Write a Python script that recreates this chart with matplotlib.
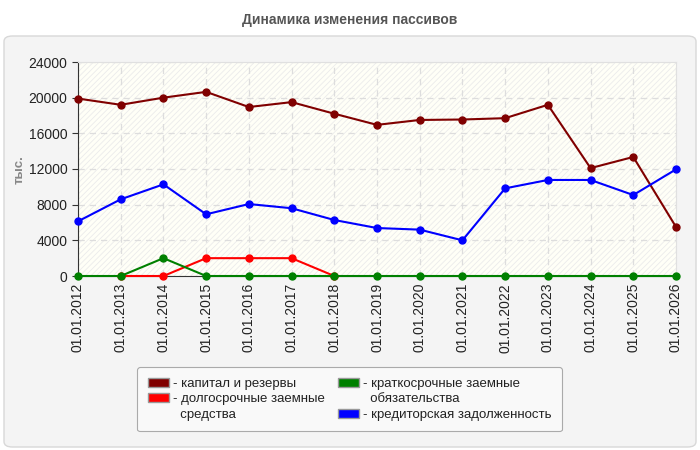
import matplotlib
matplotlib.use("Agg")
import matplotlib.pyplot as plt
import matplotlib.patches as mpatches

plt.rcParams['font.family'] = ['Liberation Sans', 'DejaVu Sans']
plt.rcParams['hatch.color'] = '#ebebeb'
plt.rcParams['hatch.linewidth'] = 0.6

dates = ['01.01.%d' % y for y in range(2012, 2027)]
capital = [19900, 19200, 20000, 20650, 18950, 19500, 18200, 16950, 17500,
           17550, 17700, 19200, 12100, 13350, 5500]
long_loans = [None, 0, 0, 2000, 2000, 2000, 0, None, None, None, None,
              None, None, None, None]
short_loans = [0, 0, 2000, 0, 0, 0, 0, 0, 0, 0, 0, 0, 0, 0, 0]
payables = [6130, 8600, 10280, 6920, 8070, 7600, 6280, 5380, 5200,
            4000, 9830, 10770, 10770, 9080, 11960]

names = ['капитал и резервы', 'долгосрочные заемные\nсредства',
         'краткосрочные заемные\nобязательства', 'кредиторская задолженность']
colors = ['#800000', '#ff0000', '#008000', '#0000ff']
values = [capital, long_loans, short_loans, payables]

fig = plt.figure(figsize=(7, 4.5), dpi=100, facecolor='white')

# outer rounded panel
panel = mpatches.FancyBboxPatch((4 / 700, 3 / 450), 692 / 700, 411 / 450,
                                boxstyle='round,pad=0,rounding_size=0.012',
                                transform=fig.transFigure, facecolor='#f4f4f4',
                                edgecolor='#d8d8d8', linewidth=1, zorder=-1)
fig.patches.append(panel)

fig.text(0.5, 1 - 20 / 450, 'Динамика изменения пассивов', ha='center',
         va='center', fontsize=10, fontweight='bold', color='#555555')

ax = fig.add_axes([78 / 700, 1 - 276 / 450, 598 / 700, 214 / 450])
ax.set_facecolor('#fffff7')
ax.add_patch(mpatches.Rectangle((0, 0), 1, 1, transform=ax.transAxes,
                                facecolor='none', edgecolor='#ebebeb',
                                hatch='//////', linewidth=0, zorder=0))

x = list(range(len(dates)))
for i in [0, 3, 1, 2]:
    vals = values[i]
    xs = [xi for xi, v in zip(x, vals) if v is not None]
    ys = [v for v in vals if v is not None]
    ax.plot(xs, ys, color=colors[i], linewidth=1.5, marker='o', markersize=5,
            clip_on=False, zorder=3 + i)

ax.set_xlim(0, 14)
ax.set_ylim(0, 24000)
ax.set_yticks(range(0, 24001, 4000))
ax.set_xticks(x)
ax.set_xticklabels(dates, rotation=90, fontsize=10, color='#222222')
ax.tick_params(axis='y', labelsize=10, labelcolor='#222222', length=4,
               color='#333333')
ax.tick_params(axis='x', length=0, pad=5)
ax.grid(True, color='#dddddd', linestyle=(0, (5, 4)), linewidth=0.9)
ax.set_axisbelow(True)
for side in ['top', 'right']:
    ax.spines[side].set_color('#e0e0e0')
ax.spines['left'].set_color('#333333')
ax.spines['bottom'].set_color('#333333')

fig.text(20 / 700, 1 - 170 / 450, 'тыс.', rotation=90, ha='center',
         va='center', fontsize=9.5, fontweight='bold', color='#888888')

# legend: one entry per text line so colour boxes sit on the first line
handles, labels = [], []
for col in ([0, 1], [2, 3]):
    for i in col:
        lines = names[i].split('\n')
        handles.append(mpatches.Patch(facecolor=colors[i], edgecolor='#999999'))
        labels.append('- ' + lines[0])
        for extra in lines[1:]:
            handles.append(mpatches.Patch(facecolor='none', edgecolor='none'))
            labels.append('  ' + extra)
leg = fig.legend(handles, labels, ncol=2, loc='upper left',
                 bbox_to_anchor=(137 / 700, 1 - 367 / 450), fontsize=9.5,
                 frameon=True, fancybox=True, edgecolor='#aaaaaa',
                 facecolor='#f9f9f9', framealpha=1, handlelength=1.6,
                 handleheight=0.7, handletextpad=0.3, columnspacing=1.0,
                 labelspacing=0.25, borderpad=0.8, borderaxespad=0)
leg.get_frame().set_linewidth(0.8)
for t in leg.get_texts():
    t.set_color('#222222')

fig.savefig('out.png', dpi=100)
